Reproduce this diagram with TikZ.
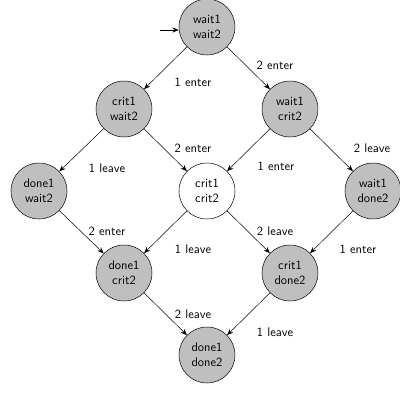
\documentclass[tikz,border=0pt]{standalone}
\usetikzlibrary{arrows.meta}
\begin{document}
\begin{tikzpicture}[x=0.8pt,y=-0.8pt,
  state/.style={circle,draw,fill=black!25,minimum size=44.8pt,inner sep=0pt,align=center,font=\sffamily},
  wstate/.style={state,fill=white},
  edge/.style={-{Stealth[length=5pt,width=4pt]},thin},
  lab/.style={font=\sffamily}]
\useasboundingbox (0,0) rectangle (400,396);
\node[state] (ww) at (207,27) {wait1\\wait2};
\node[state] (cw) at (124,109) {crit1\\wait2};
\node[state] (wc) at (290,109) {wait1\\crit2};
\node[state] (dw) at (39,191) {done1\\wait2};
\node[wstate] (cc) at (207,191) {crit1\\crit2};
\node[state] (wd) at (373,191) {wait1\\done2};
\node[state] (dc) at (124,273) {done1\\crit2};
\node[state] (cd) at (290,273) {crit1\\done2};
\node[state] (dd) at (207,355) {done1\\done2};
\coordinate (init) at (160,30);
\draw[edge] (init) -- (ww.west |- init);
\draw[edge] (ww) -- (cw);
\draw[edge] (ww) -- (wc);
\draw[edge] (cw) -- (dw);
\draw[edge] (cw) -- (cc);
\draw[edge] (wc) -- (cc);
\draw[edge] (wc) -- (wd);
\draw[edge] (dw) -- (dc);
\draw[edge] (cc) -- (dc);
\draw[edge] (cc) -- (cd);
\draw[edge] (wd) -- (cd);
\draw[edge] (dc) -- (dd);
\draw[edge] (cd) -- (dd);
\node[lab] (l1) at (193,82) {1 enter};
\node[lab] (l2) at (275,65) {2 enter};
\node[lab] (l3) at (107,168) {1 leave};
\node[lab] (l4) at (193,148) {2 enter};
\node[lab] (l5) at (276,166) {1 enter};
\node[lab] (l6) at (372,148) {2 leave};
\node[lab] (l7) at (107,231) {2 enter};
\node[lab] (l8) at (193,249) {1 leave};
\node[lab] (l9) at (275,231) {2 leave};
\node[lab] (l10) at (358,249) {1 enter};
\node[lab] (l11) at (193,314) {2 leave};
\node[lab] (l12) at (275,332) {1 leave};
\end{tikzpicture}
\end{document}
